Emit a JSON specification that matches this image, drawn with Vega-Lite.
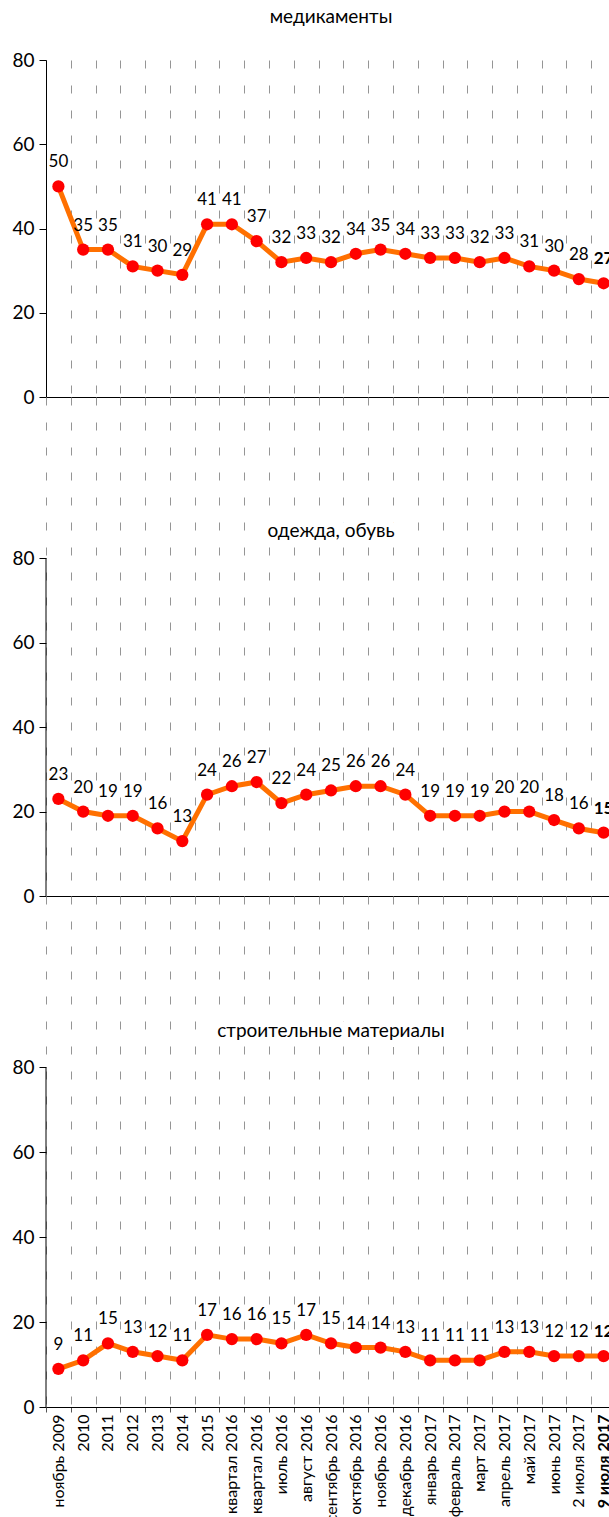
{
  "$schema": "https://vega.github.io/schema/vega-lite/v6.json",
  "padding": {"left": 11, "top": 8, "right": 0, "bottom": 0},
  "spacing": 0,
  "bounds": "flush",
  "datasets": {
    "med": [
      {"cat": "ноябрь 2009", "value": 50}, {"cat": "2010", "value": 35}, {"cat": "2011", "value": 35},
      {"cat": "2012", "value": 31}, {"cat": "2013", "value": 30}, {"cat": "2014", "value": 29},
      {"cat": "2015", "value": 41}, {"cat": "I квартал 2016", "value": 41}, {"cat": "II квартал 2016", "value": 37},
      {"cat": "июль 2016", "value": 32}, {"cat": "август 2016", "value": 33}, {"cat": "сентябрь 2016", "value": 32},
      {"cat": "октябрь 2016", "value": 34}, {"cat": "ноябрь 2016", "value": 35}, {"cat": "декабрь 2016", "value": 34},
      {"cat": "январь 2017", "value": 33}, {"cat": "февраль 2017", "value": 33}, {"cat": "март 2017", "value": 32},
      {"cat": "апрель 2017", "value": 33}, {"cat": "май 2017", "value": 31}, {"cat": "июнь 2017", "value": 30},
      {"cat": "2 июля 2017", "value": 28}, {"cat": "9 июля 2017", "value": 27}
    ],
    "clo": [
      {"cat": "ноябрь 2009", "value": 23}, {"cat": "2010", "value": 20}, {"cat": "2011", "value": 19},
      {"cat": "2012", "value": 19}, {"cat": "2013", "value": 16}, {"cat": "2014", "value": 13},
      {"cat": "2015", "value": 24}, {"cat": "I квартал 2016", "value": 26}, {"cat": "II квартал 2016", "value": 27},
      {"cat": "июль 2016", "value": 22}, {"cat": "август 2016", "value": 24}, {"cat": "сентябрь 2016", "value": 25},
      {"cat": "октябрь 2016", "value": 26}, {"cat": "ноябрь 2016", "value": 26}, {"cat": "декабрь 2016", "value": 24},
      {"cat": "январь 2017", "value": 19}, {"cat": "февраль 2017", "value": 19}, {"cat": "март 2017", "value": 19},
      {"cat": "апрель 2017", "value": 20}, {"cat": "май 2017", "value": 20}, {"cat": "июнь 2017", "value": 18},
      {"cat": "2 июля 2017", "value": 16}, {"cat": "9 июля 2017", "value": 15}
    ],
    "con": [
      {"cat": "ноябрь 2009", "value": 9}, {"cat": "2010", "value": 11}, {"cat": "2011", "value": 15},
      {"cat": "2012", "value": 13}, {"cat": "2013", "value": 12}, {"cat": "2014", "value": 11},
      {"cat": "2015", "value": 17}, {"cat": "I квартал 2016", "value": 16}, {"cat": "II квартал 2016", "value": 16},
      {"cat": "июль 2016", "value": 15}, {"cat": "август 2016", "value": 17}, {"cat": "сентябрь 2016", "value": 15},
      {"cat": "октябрь 2016", "value": 14}, {"cat": "ноябрь 2016", "value": 14}, {"cat": "декабрь 2016", "value": 13},
      {"cat": "январь 2017", "value": 11}, {"cat": "февраль 2017", "value": 11}, {"cat": "март 2017", "value": 11},
      {"cat": "апрель 2017", "value": 13}, {"cat": "май 2017", "value": 13}, {"cat": "июнь 2017", "value": 12},
      {"cat": "2 июля 2017", "value": 12}, {"cat": "9 июля 2017", "value": 12}
    ]
  },
  "config": {
    "font": "Lato, Roboto, sans-serif",
    "view": {"stroke": null},
    "axis": {"title": null, "labelColor": "black", "domainColor": "black"},
    "axisX": {
      "grid": true, "gridDash": [8, 17], "gridColor": "#959595", "gridWidth": 1,
      "tickBand": "extent", "tickSize": 5, "tickColor": "#555",
      "labelAngle": -90, "labelAlign": "right", "labelBaseline": "middle",
      "labelFontSize": 16, "labelPadding": 2, "labelOverlap": false, "labelLimit": 400
    },
    "axisY": {
      "grid": false, "tickSize": 7, "tickColor": "black",
      "labelFontSize": 19, "labelPadding": 5
    },
    "title": {"fontSize": 19, "fontWeight": "normal", "color": "black", "anchor": "middle", "frame": "group"}
  },
  "vconcat": [
    {
      "width": 570, "height": 337,
      "title": {"text": "медикаменты", "offset": 24},
      "data": {"name": "med"},
      "encoding": {
        "x": {"field": "cat", "type": "nominal", "sort": null,
          "scale": {"type": "band", "paddingInner": 0, "paddingOuter": 0,
            "domain": ["ноябрь 2009","2010","2011","2012","2013","2014","2015","I квартал 2016","II квартал 2016","июль 2016","август 2016","сентябрь 2016","октябрь 2016","ноябрь 2016","декабрь 2016","январь 2017","февраль 2017","март 2017","апрель 2017","май 2017","июнь 2017","2 июля 2017","9 июля 2017"]},
          "axis": {"labels": false}},
        "y": {"field": "value", "type": "quantitative", "scale": {"domain": [0, 80], "nice": false},
          "axis": {"values": [0, 20, 40, 60, 80]}}
      },
      "layer": [
        {"mark": {"type": "line", "color": "#ff7000", "strokeWidth": 5}},
        {"mark": {"type": "circle", "color": "#ff0000", "opacity": 1, "size": 150}},
        {"mark": {"type": "text", "dy": -24, "fontSize": 17, "color": "black",
          "fontWeight": {"expr": "datum.cat == '9 июля 2017' ? 'bold' : 'normal'"}},
          "encoding": {"text": {"field": "value", "type": "quantitative"}}}
      ]
    },
    {
      "width": 570, "height": 499,
      "data": {"name": "clo"},
      "encoding": {
        "x": {"field": "cat", "type": "nominal", "sort": null,
          "scale": {"type": "band", "paddingInner": 0, "paddingOuter": 0,
            "domain": ["ноябрь 2009","2010","2011","2012","2013","2014","2015","I квартал 2016","II квартал 2016","июль 2016","август 2016","сентябрь 2016","октябрь 2016","ноябрь 2016","декабрь 2016","январь 2017","февраль 2017","март 2017","апрель 2017","май 2017","июнь 2017","2 июля 2017","9 июля 2017"]},
          "axis": {"labels": false}},
        "y": {"field": "value", "type": "quantitative", "scale": {"domain": [0, 118.2], "nice": false},
          "axis": {"domain": false, "values": [0, 20, 40, 60, 80]}}
      },
      "layer": [
        {"transform": [{"filter": "datum.cat == 'ноябрь 2009'"}],
          "mark": {"type": "rule", "color": "black", "strokeWidth": 1},
          "encoding": {"x": {"field": "cat", "type": "nominal", "bandPosition": 0},
            "y": {"datum": 0, "type": "quantitative"}, "y2": {"datum": 80}}},
        {"transform": [{"filter": "datum.cat == 'сентябрь 2016'"}],
          "mark": {"type": "text", "text": "одежда, обувь", "fontSize": 19, "fill": "white", "stroke": "white", "strokeWidth": 14, "strokeJoin": "round"},
          "encoding": {"y": {"datum": 86.5, "type": "quantitative"}}},
        {"transform": [{"filter": "datum.cat == 'сентябрь 2016'"}],
          "mark": {"type": "text", "text": "одежда, обувь", "fontSize": 19, "color": "black"},
          "encoding": {"y": {"datum": 86.5, "type": "quantitative"}}},
        {"mark": {"type": "line", "color": "#ff7000", "strokeWidth": 5}},
        {"mark": {"type": "circle", "color": "#ff0000", "opacity": 1, "size": 150}},
        {"mark": {"type": "text", "dy": -24, "fontSize": 17, "color": "black",
          "fontWeight": {"expr": "datum.cat == '9 июля 2017' ? 'bold' : 'normal'"}},
          "encoding": {"text": {"field": "value", "type": "quantitative"}}}
      ]
    },
    {
      "width": 570, "height": 511,
      "data": {"name": "con"},
      "encoding": {
        "x": {"field": "cat", "type": "nominal", "sort": null,
          "scale": {"type": "band", "paddingInner": 0, "paddingOuter": 0,
            "domain": ["ноябрь 2009","2010","2011","2012","2013","2014","2015","I квартал 2016","II квартал 2016","июль 2016","август 2016","сентябрь 2016","октябрь 2016","ноябрь 2016","декабрь 2016","январь 2017","февраль 2017","март 2017","апрель 2017","май 2017","июнь 2017","2 июля 2017","9 июля 2017"]},
          "axis": {"labelFontWeight": {"condition": {"test": "datum.value == '9 июля 2017'", "value": "bold"}, "value": "normal"}}},
        "y": {"field": "value", "type": "quantitative", "scale": {"domain": [0, 120.4], "nice": false},
          "axis": {"domain": false, "values": [0, 20, 40, 60, 80]}}
      },
      "layer": [
        {"transform": [{"filter": "datum.cat == 'ноябрь 2009'"}],
          "mark": {"type": "rule", "color": "black", "strokeWidth": 1},
          "encoding": {"x": {"field": "cat", "type": "nominal", "bandPosition": 0},
            "y": {"datum": 0, "type": "quantitative"}, "y2": {"datum": 80}}},
        {"transform": [{"filter": "datum.cat == 'сентябрь 2016'"}],
          "mark": {"type": "text", "text": "строительные материалы", "fontSize": 19, "fill": "white", "stroke": "white", "strokeWidth": 14, "strokeJoin": "round"},
          "encoding": {"y": {"datum": 88.7, "type": "quantitative"}}},
        {"transform": [{"filter": "datum.cat == 'сентябрь 2016'"}],
          "mark": {"type": "text", "text": "строительные материалы", "fontSize": 19, "color": "black"},
          "encoding": {"y": {"datum": 88.7, "type": "quantitative"}}},
        {"mark": {"type": "line", "color": "#ff7000", "strokeWidth": 5}},
        {"mark": {"type": "circle", "color": "#ff0000", "opacity": 1, "size": 150}},
        {"mark": {"type": "text", "dy": -24, "fontSize": 17, "color": "black",
          "fontWeight": {"expr": "datum.cat == '9 июля 2017' ? 'bold' : 'normal'"}},
          "encoding": {"text": {"field": "value", "type": "quantitative"}}}
      ]
    }
  ]
}
